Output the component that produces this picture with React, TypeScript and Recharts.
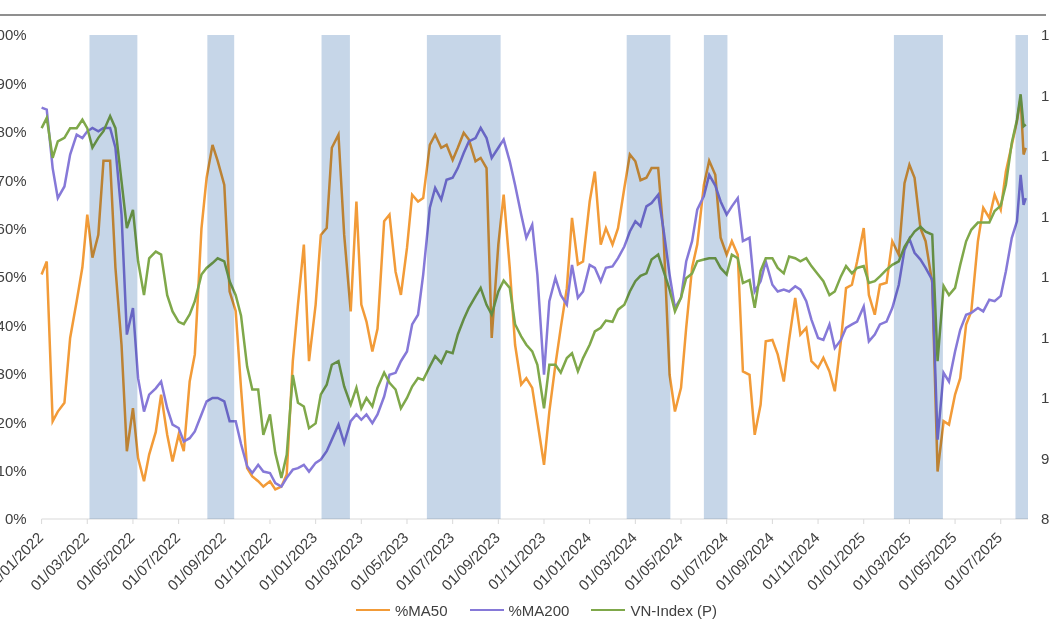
import React from 'react';
import { ComposedChart, Line, XAxis, YAxis, ReferenceArea, Legend } from 'recharts';

// sample dates (roughly 4 per month)
const dates = [
  '2022-01-01', '2022-01-08', '2022-01-16', '2022-01-23', '2022-02-01', '2022-02-08', '2022-02-16', '2022-02-23',
  '2022-03-01', '2022-03-08', '2022-03-16', '2022-03-23', '2022-04-01', '2022-04-08', '2022-04-16', '2022-04-23',
  '2022-05-01', '2022-05-08', '2022-05-16', '2022-05-23', '2022-06-01', '2022-06-08', '2022-06-16', '2022-06-23',
  '2022-07-01', '2022-07-08', '2022-07-16', '2022-07-23', '2022-08-01', '2022-08-08', '2022-08-16', '2022-08-23',
  '2022-09-01', '2022-09-08', '2022-09-16', '2022-09-23', '2022-10-01', '2022-10-08', '2022-10-16', '2022-10-23',
  '2022-11-01', '2022-11-08', '2022-11-16', '2022-11-23', '2022-12-01', '2022-12-08', '2022-12-16', '2022-12-23',
  '2023-01-01', '2023-01-08', '2023-01-16', '2023-01-23', '2023-02-01', '2023-02-08', '2023-02-16', '2023-02-23',
  '2023-03-01', '2023-03-08', '2023-03-16', '2023-03-23', '2023-04-01', '2023-04-08', '2023-04-16', '2023-04-23',
  '2023-05-01', '2023-05-08', '2023-05-16', '2023-05-23', '2023-06-01', '2023-06-08', '2023-06-16', '2023-06-23',
  '2023-07-01', '2023-07-08', '2023-07-16', '2023-07-23', '2023-08-01', '2023-08-08', '2023-08-16', '2023-08-23',
  '2023-09-01', '2023-09-08', '2023-09-16', '2023-09-23', '2023-10-01', '2023-10-08', '2023-10-16', '2023-10-23',
  '2023-11-01', '2023-11-08', '2023-11-16', '2023-11-23', '2023-12-01', '2023-12-08', '2023-12-16', '2023-12-23',
  '2024-01-01', '2024-01-08', '2024-01-16', '2024-01-23', '2024-02-01', '2024-02-08', '2024-02-16', '2024-02-23',
  '2024-03-01', '2024-03-08', '2024-03-16', '2024-03-23', '2024-04-01', '2024-04-08', '2024-04-16', '2024-04-23',
  '2024-05-01', '2024-05-08', '2024-05-16', '2024-05-23', '2024-06-01', '2024-06-08', '2024-06-16', '2024-06-23',
  '2024-07-01', '2024-07-08', '2024-07-16', '2024-07-23', '2024-08-01', '2024-08-08', '2024-08-16', '2024-08-23',
  '2024-09-01', '2024-09-08', '2024-09-16', '2024-09-23', '2024-10-01', '2024-10-08', '2024-10-16', '2024-10-23',
  '2024-11-01', '2024-11-08', '2024-11-16', '2024-11-23', '2024-12-01', '2024-12-08', '2024-12-16', '2024-12-23',
  '2025-01-01', '2025-01-08', '2025-01-16', '2025-01-23', '2025-02-01', '2025-02-08', '2025-02-16', '2025-02-23',
  '2025-03-01', '2025-03-08', '2025-03-16', '2025-03-23', '2025-04-01', '2025-04-08', '2025-04-16', '2025-04-23',
  '2025-05-01', '2025-05-08', '2025-05-16', '2025-05-23', '2025-06-01', '2025-06-08', '2025-06-16', '2025-06-23',
  '2025-07-01', '2025-07-08', '2025-07-16', '2025-07-23', '2025-07-28', '2025-08-01', '2025-08-04',
];

// % of stocks above MA50 / MA200
const ma50 = [
  50.5, 53.2, 20.2, 22.2, 24, 37.4, 45, 52, 62.9, 54, 58.7, 74, 74, 51.9, 36, 14,
  22.9, 12.6, 7.8, 13.3, 18, 25.7, 17.4, 11.9, 17.4, 14, 28.4, 34, 60, 70.5, 77.3, 74,
  69, 47, 43, 27, 10.5, 8.8, 7.8, 6.7, 7.8, 6.1, 6.7, 9.2, 32.6, 44.3, 56.7, 32.6,
  44.3, 58.7, 60.1, 76.7, 79.4, 58.7, 42.9, 65.6, 44.3, 40.8, 34.6, 39.3, 61.5, 62.9, 51.1, 46.3,
  56, 67, 65.6, 66.3, 77.3, 79.4, 76.7, 77.3, 74.2, 76.7, 79.8, 78.4, 73.9, 74.6, 72.5, 37.4,
  56.7, 67, 51.9, 36, 27.8, 29.1, 27.1, 20.2, 11.2, 22.2, 31.9, 39.5, 47.7, 62.2, 52.6, 53.2,
  65.6, 71.8, 56.7, 60.1, 56.7, 60.1, 68.4, 75.3, 73.9, 70, 70.5, 72.5, 72.5, 58.7, 29.8, 22.2,
  27.1, 39.5, 51.9, 56.7, 69, 74, 71.1, 58.1, 54.6, 57.4, 54.6, 30.5, 29.8, 17.4, 23.6, 36.7,
  37, 34, 28.4, 37, 45.7, 38.1, 39.5, 32.6, 31.2, 33.3, 30.5, 26.4, 36.7, 47.7, 48.4, 53.2,
  60.1, 46.3, 42.2, 48.4, 48.8, 57.4, 54.6, 69.4, 73.2, 70.5, 60.1, 57.4, 48.8, 9.8, 20.2, 19.5,
  25.7, 29.1, 40.2, 42.9, 57.4, 64.3, 62.2, 67, 63.9, 71.8, 77.3, 82.2, 87, 75.3, 76.7,
];

const ma200 = [
  85, 84.6, 72.5, 66.3, 68.7, 75.3, 79.4, 78.7, 80.1, 80.8, 80.1, 80.8, 80.8, 76.7, 62.9, 38.1,
  43.6, 29.1, 22.2, 25.7, 27, 28.4, 22.9, 19.5, 18.8, 16, 16.7, 18.1, 21.6, 24.3, 25, 25,
  24.3, 20.2, 20.2, 15.5, 10.9, 9.5, 11.2, 9.8, 9.5, 7.4, 6.7, 8.5, 10.2, 10.5, 11.2, 9.8,
  11.6, 12.3, 14, 16.4, 19.5, 15.7, 20.2, 21.6, 20.5, 21.6, 19.8, 21.6, 25.3, 29.8, 30.2, 32.6,
  34.6, 40.2, 42.2, 50.5, 64.3, 68.4, 66, 70.1, 70.5, 72.5, 75.6, 78, 78.7, 80.8, 78.7, 74.6,
  76.7, 78.4, 73.9, 69, 62.9, 58.1, 60.8, 50.5, 29.8, 45, 49.8, 46.3, 44.3, 52.5, 45.7, 47,
  52.5, 51.9, 49.1, 51.9, 52.2, 53.9, 56.3, 59.4, 61.5, 60.5, 64.6, 65.3, 67, 59.8, 50.5, 43.6,
  45.7, 53.2, 57.4, 63.9, 66.7, 71.1, 68.9, 65.6, 62.9, 64.6, 66.3, 57.4, 58.1, 47, 49.1, 53.2,
  48.4, 47, 47.4, 47, 48.1, 47.4, 45, 41.2, 37.4, 37, 40.2, 35.3, 37, 39.5, 40.2, 40.8,
  43.9, 36.7, 38.1, 40.2, 40.8, 43.6, 48.4, 55.6, 57.9, 55, 53.6, 51.9, 49.4, 16.4, 30.2, 28.4,
  34.6, 39.1, 42.2, 42.6, 43.6, 42.9, 45.3, 45, 46.1, 51.2, 58.1, 61.5, 71.1, 64.9, 66.3,
];

// VN-Index closing level (right axis)
const vnIndex = [
  1496, 1513, 1447, 1474, 1480, 1496, 1496, 1510, 1496, 1464, 1480, 1491, 1516, 1496, 1408, 1331,
  1361, 1276, 1220, 1281, 1292, 1287, 1220, 1193, 1176, 1172, 1188, 1210, 1254, 1265, 1273, 1281,
  1276, 1243, 1220, 1186, 1102, 1064, 1064, 989, 1023, 959, 918, 956, 1088, 1042, 1036, 1000,
  1008, 1056, 1072, 1105, 1111, 1069, 1039, 1067, 1033, 1050, 1036, 1067, 1092, 1075, 1064, 1033,
  1050, 1069, 1083, 1080, 1102, 1119, 1108, 1127, 1124, 1155, 1180, 1199, 1218, 1232, 1204, 1188,
  1226, 1244, 1232, 1172, 1152, 1138, 1127, 1105, 1033, 1105, 1105, 1092, 1116, 1124, 1094, 1116,
  1138, 1160, 1166, 1178, 1176, 1196, 1204, 1226, 1243, 1252, 1256, 1279, 1287, 1260, 1229, 1193,
  1216, 1248, 1256, 1276, 1279, 1281, 1281, 1265, 1254, 1287, 1281, 1240, 1245, 1199, 1260, 1281,
  1281, 1265, 1256, 1284, 1281, 1276, 1281, 1268, 1254, 1243, 1220, 1226, 1251, 1268, 1256, 1265,
  1268, 1240, 1243, 1251, 1262, 1270, 1276, 1300, 1313, 1325, 1333, 1325, 1320, 1111, 1235, 1220,
  1232, 1270, 1309, 1328, 1340, 1340, 1340, 1359, 1368, 1403, 1472, 1510, 1552, 1499, 1502,
];

// shaded periods
const shadedPeriods = [
  ['2022-03-04', '2022-05-07'],
  ['2022-08-09', '2022-09-14'],
  ['2023-01-09', '2023-02-15'],
  ['2023-05-28', '2023-09-04'],
  ['2024-02-19', '2024-04-17'],
  ['2024-06-01', '2024-07-02'],
  ['2025-02-10', '2025-04-15'],
  ['2025-07-21', '2025-08-07'],
];

const tickDates = [
  '2022-01-01', '2022-03-01', '2022-05-01', '2022-07-01', '2022-09-01', '2022-11-01',
  '2023-01-01', '2023-03-01', '2023-05-01', '2023-07-01', '2023-09-01', '2023-11-01',
  '2024-01-01', '2024-03-01', '2024-05-01', '2024-07-01', '2024-09-01', '2024-11-01',
  '2025-01-01', '2025-03-01', '2025-05-01', '2025-07-01',
];
const axisStart = '2022-01-01';
const axisEnd = '2025-08-07';
const pctTicks = [0, 10, 20, 30, 40, 50, 60, 70, 80, 90, 100];
const indexTicks = [850, 950, 1050, 1150, 1250, 1350, 1450, 1550, 1650];

const FONT = 'Arial, "Liberation Sans", Helvetica, sans-serif';
const ORANGE = '#F29B38';
const PURPLE = '#8679D8';
const GREEN = '#7FA84A';
const SHADE = '#C6D6E8';
const TEXT = '#404040';

// months since Jan 2022 (the axis is evenly spaced per month)
const toMonths = (d: string) => {
  const [y, m, day] = d.split('-').map(Number);
  const dim = new Date(y, m, 0).getDate();
  return (y - 2022) * 12 + (m - 1) + (day - 1) / dim;
};

const pad = (n: number) => (n < 10 ? '0' + n : '' + n);
const fmtDate = (v: number) => {
  const i = Math.round(v);
  return `01/${pad((i % 12) + 1)}/${2022 + Math.floor(i / 12)}`;
};

const rows = dates.map((d, i) => ({
  m: toMonths(d),
  ma50: ma50[i],
  ma200: ma200[i],
  vn: vnIndex[i],
}));

const legendItems = [
  { label: '%MA50', color: ORANGE },
  { label: '%MA200', color: PURPLE },
  { label: 'VN-Index (P)', color: GREEN },
];

const renderLegend = () => (
  <div style={{ display: 'flex', alignItems: 'center', height: 20, fontFamily: FONT, fontSize: 15, color: TEXT }}>
    {legendItems.map((it) => (
      <div key={it.label} style={{ display: 'flex', alignItems: 'center', marginRight: 22 }}>
        <span style={{ display: 'inline-block', width: 34, height: 2.5, background: it.color, marginRight: 5 }} />
        <span>{it.label}</span>
      </div>
    ))}
  </div>
);

const Shade = (p: any) => (
  <rect x={p.x} y={p.y} width={p.width} height={p.height} fill={SHADE} style={{ mixBlendMode: 'multiply' }} />
);

export default function App() {
  return (
    <div style={{ position: 'absolute', left: 0, top: 0, width: 1050, height: 630, background: '#fff', fontFamily: FONT }}>
      <div style={{ position: 'absolute', left: 0, top: 14, width: 1046, borderTop: '2px solid #8f8f8f' }} />
      <ComposedChart width={1050} height={630} data={rows} margin={{ top: 35, right: 0, bottom: 10, left: 0 }}>
        <XAxis
          dataKey="m"
          type="number"
          domain={[toMonths(axisStart), toMonths(axisEnd)]}
          ticks={tickDates.map(toMonths)}
          tickFormatter={fmtDate}
          interval={0}
          height={81}
          tickSize={5}
          tickMargin={7}
          axisLine={{ stroke: '#d9d9d9' }}
          tickLine={{ stroke: '#d9d9d9' }}
          tick={{ angle: -45, textAnchor: 'end', dx: -5, fontSize: 15, fill: TEXT, fontFamily: FONT }}
        />
        <YAxis
          yAxisId="pct"
          domain={[0, 100]}
          ticks={pctTicks}
          tickFormatter={(v: number) => `${v}%`}
          width={41.6}
          axisLine={false}
          tickLine={false}
          tickMargin={9}
          tick={{ fontSize: 15, fill: TEXT, fontFamily: FONT }}
        />
        <YAxis
          yAxisId="idx"
          orientation="right"
          domain={[850, 1650]}
          ticks={indexTicks}
          tickFormatter={(v: number) => v.toLocaleString('en-US')}
          width={22}
          axisLine={false}
          tickLine={false}
          tickMargin={7}
          tick={{ fontSize: 15, fill: TEXT, fontFamily: FONT, textAnchor: 'start' }}
        />
        <Line yAxisId="pct" dataKey="ma50" stroke={ORANGE} strokeWidth={2.5} dot={false} isAnimationActive={false} />
        <Line yAxisId="pct" dataKey="ma200" stroke={PURPLE} strokeWidth={2.5} dot={false} isAnimationActive={false} />
        <Line yAxisId="idx" dataKey="vn" stroke={GREEN} strokeWidth={2.5} dot={false} isAnimationActive={false} />
        {shadedPeriods.map(([a, b]) => (
          <ReferenceArea
            key={a}
            yAxisId="pct"
            x1={toMonths(a)}
            x2={toMonths(b)}
            shape={Shade}
            ifOverflow="hidden"
            zIndex={1500}
          />
        ))}
        <Legend verticalAlign="bottom" content={renderLegend} wrapperStyle={{ left: 356, width: 420, height: 20 }} />
      </ComposedChart>
    </div>
  );
}
